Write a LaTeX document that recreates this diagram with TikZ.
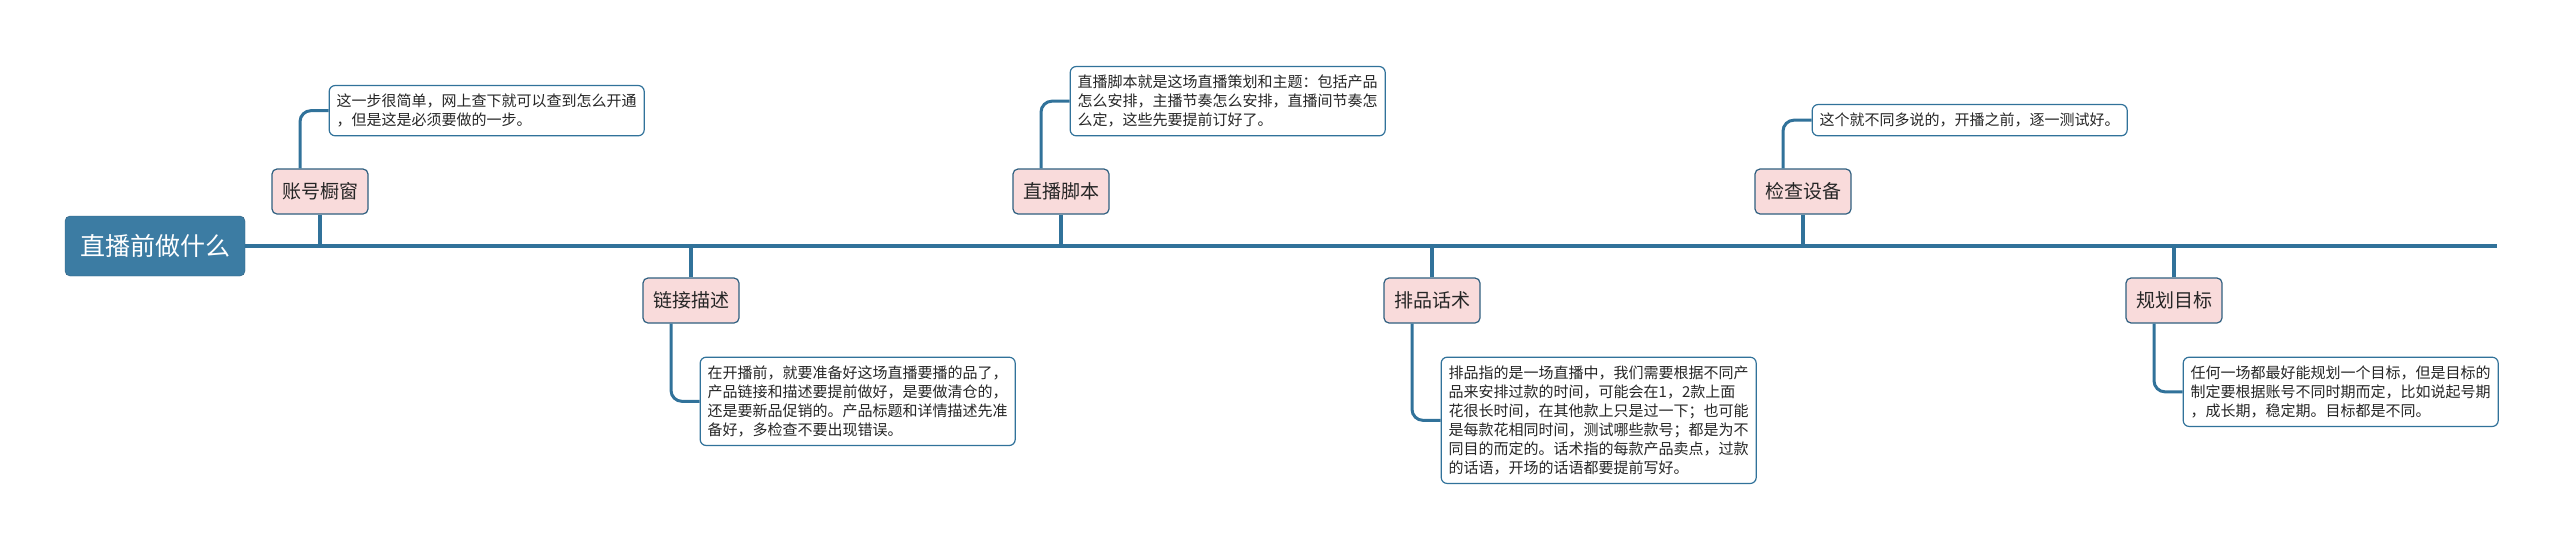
\documentclass[tikz,border=0pt]{standalone}
\usepackage{fontspec}
\setmainfont{Noto Sans CJK SC}
\usepackage{xcolor}
\usepackage{tikz}
\usetikzlibrary{positioning,calc}

\definecolor{spine}{HTML}{31729A}
\definecolor{rootfill}{HTML}{3C7CA3}
\definecolor{topicfill}{HTML}{F9DBDB}
\definecolor{topicline}{HTML}{2F5F80}
\definecolor{ink}{HTML}{262626}

\begin{document}
\begin{tikzpicture}[x=1pt, y=-1pt,
    root/.style={draw=topicline, fill=rootfill, rounded corners=5pt, minimum width=180pt, minimum height=60pt, inner sep=0pt, text=white, font=\fontsize{25}{30}\selectfont},
    topic/.style={draw=topicline, line width=1.2pt, fill=topicfill, rounded corners=5pt, minimum width=96pt, minimum height=45pt, inner sep=0pt, text=ink, font=\fontsize{19}{23}\selectfont},
    note/.style={draw=spine, line width=1.2pt, fill=white, rounded corners=6pt, text width=300pt, inner xsep=7.5pt, inner ysep=8.5pt, align=left, text=ink, font=\fontsize{15}{19}\selectfont},
    branch/.style={draw=spine, line width=3.5pt},
    link/.style={draw=spine, line width=3pt, rounded corners=11pt}]

    \useasboundingbox (0,0) rectangle (2560,550);

    % root and spine
    \node[root] (root) at (155,246) {直播前做什么};
    \coordinate (spineend) at (2497,246);

    % topics
    \node[topic] (account) at (320,191.5) {账号橱窗};
    \node[topic] (linkdesc) at (691,300.5) {链接描述};
    \node[topic] (script) at (1061,191.5) {直播脚本};
    \node[topic] (lineup) at (1432,300.5) {排品话术};
    \node[topic] (devices) at (1803,191.5) {检查设备};
    \node[topic] (goals) at (2174,300.5) {规划目标};

    % notes
    \node[note] (accountnote) [above right=32pt and -40pt of account] {这一步很简单，网上查下就可以查到怎么开通\\，但是这是必须要做的一步。};
    \node[note] (linkdescnote) [below right=33pt and -40pt of linkdesc] {在开播前，就要准备好这场直播要播的品了，\\产品链接和描述要提前做好，是要做清仓的，\\还是要新品促销的。产品标题和详情描述先准\\备好，多检查不要出现错误。};
    \node[note] (scriptnote) [above right=32pt and -40pt of script] {直播脚本就是这场直播策划和主题：包括产品\\怎么安排，主播节奏怎么安排，直播间节奏怎\\么定，这些先要提前订好了。};
    \node[note] (lineupnote) [below right=33pt and -40pt of lineup] {排品指的是一场直播中，我们需要根据不同产\\品来安排过款的时间，可能会在1，2款上面\\花很长时间，在其他款上只是过一下；也可能\\是每款花相同时间，测试哪些款号；都是为不\\同目的而定的。话术指的每款产品卖点，过款\\的话语，开场的话语都要提前写好。};
    \node[note] (devicesnote) [above right=32pt and -40pt of devices] {这个就不同多说的，开播之前，逐一测试好。};
    \node[note] (goalsnote) [below right=33pt and -40pt of goals] {任何一场都最好能规划一个目标，但是目标的\\制定要根据账号不同时期而定，比如说起号期\\，成长期，稳定期。目标都是不同。};

    % spine and branches
    \draw[branch] (root.east) -- (spineend);
    \draw[branch] (account.south) -- (account.south |- spineend);
    \draw[branch] (linkdesc.north) -- (linkdesc.north |- spineend);
    \draw[branch] (script.south) -- (script.south |- spineend);
    \draw[branch] (lineup.north) -- (lineup.north |- spineend);
    \draw[branch] (devices.south) -- (devices.south |- spineend);
    \draw[branch] (goals.north) -- (goals.north |- spineend);

    % topic to note
    \draw[link] ($(account.north)+(-20,0)$) |- (accountnote.west);
    \draw[link] ($(linkdesc.south)+(-20,0)$) |- (linkdescnote.west);
    \draw[link] ($(script.north)+(-20,0)$) |- (scriptnote.west);
    \draw[link] ($(lineup.south)+(-20,0)$) |- (lineupnote.west);
    \draw[link] ($(devices.north)+(-20,0)$) |- (devicesnote.west);
    \draw[link] ($(goals.south)+(-20,0)$) |- (goalsnote.west);

\end{tikzpicture}
\end{document}
